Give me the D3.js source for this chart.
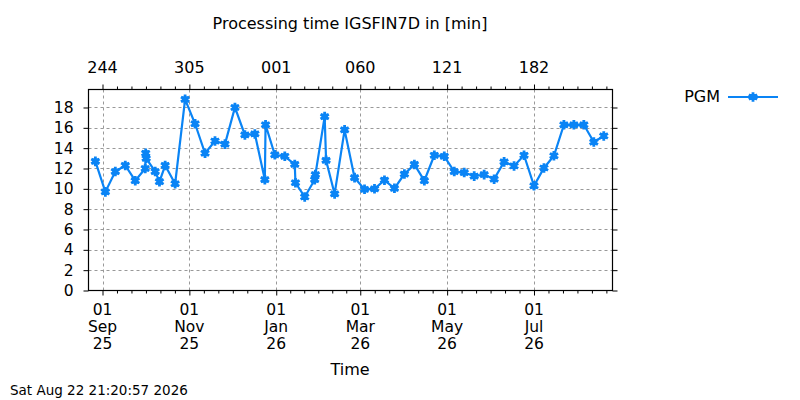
<!DOCTYPE html>
<html>
<head>
<meta charset="utf-8">
<script src="https://cdn.jsdelivr.net/npm/d3@7"></script>
<style>
  body { margin: 0; background: #fff; }
  text { font-family: "DejaVu Sans", sans-serif; fill: #000; }
</style>
</head>
<body>
<script>

// data
var dates = [
  "2025-08-27", "2025-09-03", "2025-09-10", "2025-09-17", "2025-09-24",
  "2025-10-01T00:00", "2025-10-01T08:00", "2025-10-01T16:00", "2025-10-08", "2025-10-11",
  "2025-10-15", "2025-10-22", "2025-10-29", "2025-11-05", "2025-11-12",
  "2025-11-19", "2025-11-26", "2025-12-03", "2025-12-10", "2025-12-17",
  "2025-12-24T00:00", "2025-12-24T12:00", "2025-12-31", "2026-01-07", "2026-01-14T00:00",
  "2026-01-14T12:00", "2026-01-21", "2026-01-28T00:00", "2026-01-28T12:00", "2026-02-04",
  "2026-02-05", "2026-02-11", "2026-02-18", "2026-02-25", "2026-03-04",
  "2026-03-11", "2026-03-18", "2026-03-25", "2026-04-01", "2026-04-08",
  "2026-04-15", "2026-04-22", "2026-04-29", "2026-05-06", "2026-05-13",
  "2026-05-20", "2026-05-27", "2026-06-03", "2026-06-10", "2026-06-17",
  "2026-06-24", "2026-07-01", "2026-07-08", "2026-07-15", "2026-07-22",
  "2026-07-29", "2026-08-05", "2026-08-12", "2026-08-19"
];
var pgm = [
  12.7, 9.7, 11.7, 12.3, 10.8,
  12.0, 13.5, 13.0, 11.7, 10.7,
  12.3, 10.5, 18.8, 16.4, 13.5,
  14.7, 14.4, 18.0, 15.3, 15.4,
  10.9, 16.3, 13.35, 13.2, 12.4,
  10.6, 9.2, 10.9, 11.4, 17.1,
  12.8, 9.5, 15.8, 11.1, 9.95,
  10.0, 10.85, 10.05, 11.45, 12.4,
  10.8, 13.3, 13.2, 11.7, 11.6,
  11.25, 11.4, 10.95, 12.65, 12.25,
  13.3, 10.3, 12.05, 13.25, 16.3,
  16.3, 16.3, 14.6, 15.2
];
var xTickDates = ["2025-09-01", "2025-11-01", "2026-01-01", "2026-03-01", "2026-05-01", "2026-07-01"];
var xTickLabels = [["01", "Sep", "25"], ["01", "Nov", "25"], ["01", "Jan", "26"],
                   ["01", "Mar", "26"], ["01", "May", "26"], ["01", "Jul", "26"]];
var topTickLabels = ["244", "305", "001", "060", "121", "182"];
var yTicks = [0, 2, 4, 6, 8, 10, 12, 14, 16, 18];
var seriesName = "PGM";
var titleText = "Processing time IGSFIN7D in [min]";
var xLabelText = "Time";
var stampText = "Sat Aug 22 21:20:57 2026";

// layout
var width = 800, height = 400;
var plotLeft = 88.5, plotRight = 612.5, plotTop = 89.5, plotBottom = 290.5;
var lineColor = "#0a84f5";
var gridColor = "#999999";

var parse = d3.utcParse("%Y-%m-%dT%H:%M");
function toDate(s) { return s.length > 10 ? parse(s) : parse(s + "T00:00"); }

var svg = d3.select("body").append("svg")
    .attr("width", width)
    .attr("height", height);

var x = d3.scaleUtc()
    .domain([toDate("2025-08-22T04:00"), toDate("2026-08-25T03:00")])
    .range([plotLeft, plotRight]);
var y = d3.scaleLinear()
    .domain([0, 19.77])
    .range([plotBottom, plotTop]);

var tickDates = xTickDates.map(toDate);

// grid
svg.append("g").selectAll("line")
    .data(yTicks.filter(function(d) { return d > 0; }))
    .enter().append("line")
    .attr("x1", plotLeft).attr("x2", plotRight)
    .attr("y1", function(d) { return Math.round(y(d)) + 0.5; })
    .attr("y2", function(d) { return Math.round(y(d)) + 0.5; })
    .attr("stroke", gridColor)
    .attr("stroke-dasharray", "3,3");

svg.append("g").selectAll("line")
    .data(tickDates)
    .enter().append("line")
    .attr("x1", function(d) { return Math.round(x(d)) + 0.5; })
    .attr("x2", function(d) { return Math.round(x(d)) + 0.5; })
    .attr("y1", plotTop).attr("y2", plotBottom)
    .attr("stroke", gridColor)
    .attr("stroke-dasharray", "3,3");

// minor ticks: 6 subdivisions between majors
var minorDates = [];
var step = (tickDates[1] - tickDates[0]) / 6;
for (var i = 0; i < tickDates.length; i++) {
  var start = tickDates[i];
  var end = i < tickDates.length - 1 ? tickDates[i + 1] : new Date(+start + step * 6);
  var s = (end - start) / 6;
  for (var k = 1; k < 6; k++) {
    var d = new Date(+start + s * k);
    if (x(d) < plotRight - 1) minorDates.push(d);
  }
}

// axes
function styleAxis(g) {
  g.select(".domain").remove();
  g.selectAll("line").attr("stroke", "#000");
}
svg.append("g").attr("transform", "translate(0," + plotBottom + ")")
    .call(d3.axisBottom(x).tickValues(tickDates).tickSize(5).tickFormat("")).call(styleAxis);
svg.append("g").attr("transform", "translate(0," + plotTop + ")")
    .call(d3.axisTop(x).tickValues(tickDates).tickSize(5).tickFormat("")).call(styleAxis);
svg.append("g").attr("transform", "translate(" + plotLeft + ",0)")
    .call(d3.axisLeft(y).tickValues(yTicks).tickSize(5).tickFormat("")).call(styleAxis);
svg.append("g").attr("transform", "translate(" + plotRight + ",0)")
    .call(d3.axisRight(y).tickValues(yTicks).tickSize(5).tickFormat("")).call(styleAxis);

svg.append("g").attr("transform", "translate(0," + plotBottom + ")")
    .call(d3.axisBottom(x).tickValues(minorDates).tickSize(3).tickFormat(""))
    .call(styleAxis);
svg.append("g").attr("transform", "translate(0," + plotTop + ")")
    .call(d3.axisTop(x).tickValues(minorDates).tickSize(3).tickFormat(""))
    .call(styleAxis);

// border
svg.append("rect")
    .attr("x", plotLeft).attr("y", plotTop)
    .attr("width", plotRight - plotLeft).attr("height", plotBottom - plotTop)
    .attr("fill", "none")
    .attr("stroke", "#000")
    .attr("stroke-width", 1.2);

// tick labels
svg.append("g").selectAll("text")
    .data(yTicks)
    .enter().append("text")
    .attr("x", plotLeft - 15)
    .attr("y", function(d) { return y(d) + 5.5; })
    .attr("text-anchor", "end")
    .attr("font-size", 15.5)
    .text(function(d) { return d; });

svg.append("g").selectAll("text")
    .data(tickDates)
    .enter().append("text")
    .attr("x", function(d) { return x(d); })
    .attr("y", 73)
    .attr("text-anchor", "middle")
    .attr("font-size", 16)
    .text(function(d, i) { return topTickLabels[i]; });

var bl = svg.append("g").selectAll("text")
    .data(tickDates)
    .enter().append("text")
    .attr("text-anchor", "middle")
    .attr("font-size", 15.5);
[0, 1, 2].forEach(function(r) {
  bl.append("tspan")
    .attr("x", function(d) { return x(d); })
    .attr("y", 315 + r * 17)
    .text(function(d, i) { return xTickLabels[i][r]; });
});

// titles
svg.append("text")
    .attr("x", 350).attr("y", 29)
    .attr("text-anchor", "middle")
    .attr("font-size", 16)
    .text(titleText);
svg.append("text")
    .attr("x", 350).attr("y", 375)
    .attr("text-anchor", "middle")
    .attr("font-size", 16)
    .text(xLabelText);
svg.append("text")
    .attr("x", 10).attr("y", 395)
    .attr("font-size", 13.5)
    .text(stampText);

// series
var points = dates.map(function(d, i) { return { t: toDate(d), v: pgm[i] }; });

var line = d3.line()
    .x(function(d) { return x(d.t); })
    .y(function(d) { return y(d.v); });

svg.append("path")
    .datum(points)
    .attr("d", line)
    .attr("fill", "none")
    .attr("stroke", lineColor)
    .attr("stroke-width", 2.2);

var star = d3.symbol().type(d3.symbolAsterisk).size(64);

function drawMarker(sel) {
  sel.append("path")
    .attr("d", star)
    .attr("stroke", lineColor)
    .attr("stroke-width", 2.8)
    .attr("fill", "none");
  sel.append("rect")
    .attr("x", -3).attr("y", -3)
    .attr("width", 6).attr("height", 6)
    .attr("fill", lineColor);
}

svg.append("g").selectAll("g")
    .data(points)
    .enter().append("g")
    .attr("transform", function(d) { return "translate(" + x(d.t) + "," + y(d.v) + ")"; })
    .call(drawMarker);

// legend
svg.append("text")
    .attr("x", 720).attr("y", 102)
    .attr("text-anchor", "end")
    .attr("font-size", 16)
    .text(seriesName);
svg.append("line")
    .attr("x1", 728).attr("x2", 778)
    .attr("y1", 97).attr("y2", 97)
    .attr("stroke", lineColor)
    .attr("stroke-width", 2.2);
svg.append("g")
    .attr("transform", "translate(753,97)")
    .call(drawMarker);

</script>
</body>
</html>
